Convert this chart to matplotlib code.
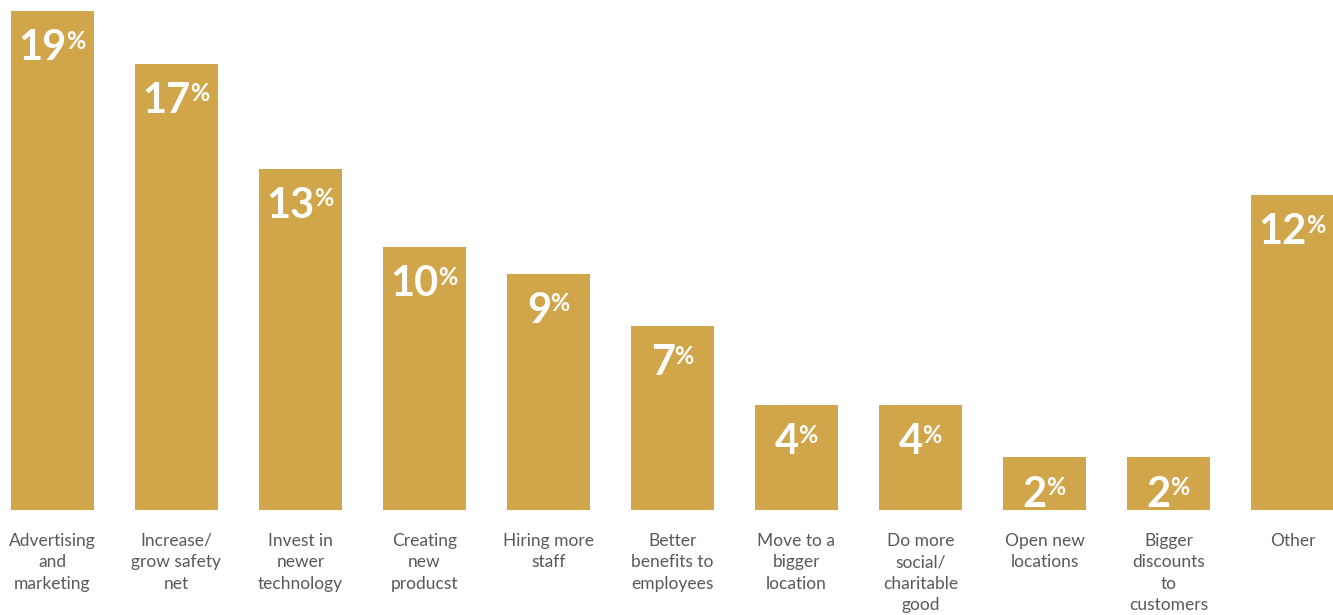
import matplotlib
matplotlib.use("Agg")
from matplotlib import pyplot as plt

categories = [
    "Advertising\nand\nmarketing",
    "Increase/\ngrow safety\nnet",
    "Invest in\nnewer\ntechnology",
    "Creating\nnew\nproducst",
    "Hiring more\nstaff",
    "Better\nbenefits to\nemployees",
    "Move to a\nbigger\nlocation",
    "Do more\nsocial/\ncharitable\ngood",
    "Open new\nlocations",
    "Bigger\ndiscounts\nto\ncustomers",
    "Other",
]
values = [19, 17, 13, 10, 9, 7, 4, 4, 2, 2, 12]

GOLD = "#D1A54A"
GREY = "#58595B"

plt.rcParams["font.family"] = ["Lato", "DejaVu Sans"]

fig = plt.figure(figsize=(13.33, 6.15), dpi=100)
ax = fig.add_axes([0, 105 / 615, 1, 510 / 615])

x = list(range(len(values)))
ax.bar(x, values, width=0.67, color=GOLD, linewidth=0)
ax.set_xlim(-0.423, 10.327)
ax.set_ylim(0, 19.42)
ax.axis("off")

renderer = fig.canvas.get_renderer()
for i, v in enumerate(values):
    # number + small percent sign, centred together near the bar top
    num = ax.annotate(str(v), (i, v), xytext=(0, -13), textcoords="offset points",
                      ha="left", va="top", color="white", fontsize=30,
                      fontweight="bold")
    pct = ax.annotate("%", (i, v), xytext=(0, -13.5), textcoords="offset points",
                      ha="left", va="top", color="white", fontsize=17,
                      fontweight="bold")
    wn = num.get_window_extent(renderer).width
    wp = pct.get_window_extent(renderer).width
    total = (wn + wp) * 72 / fig.dpi
    num.set_position((-total / 2, -13))
    pct.set_position((-total / 2 + (wn - 1) * 72 / fig.dpi, -13.5))

    ax.annotate(categories[i], (i, 0), xytext=(0, -16.5), textcoords="offset points",
                ha="center", va="top", color=GREY, fontsize=12.5,
                linespacing=1.42, annotation_clip=False)

fig.savefig("out.png", dpi=100)
plt.close(fig)
